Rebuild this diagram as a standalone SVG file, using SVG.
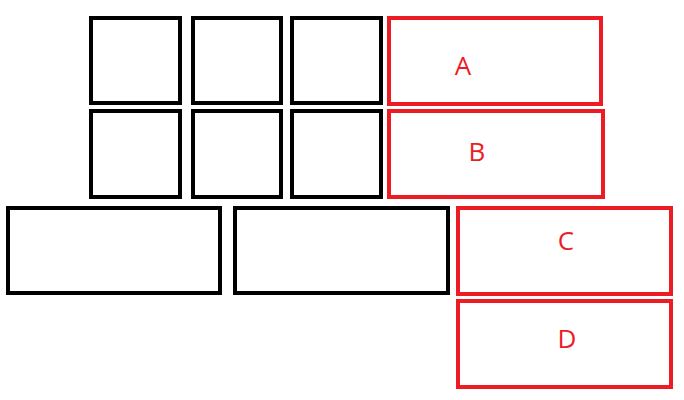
<svg xmlns="http://www.w3.org/2000/svg" width="684" height="400" viewBox="0 0 684 400">
<style>
.k{fill:#fff;stroke:#000;stroke-width:4}
.r{fill:#fff;stroke:#ed1c24;stroke-width:4}
.t{font-family:"Open Sans","Liberation Sans",sans-serif;font-size:26px;fill:#ed1c24;text-anchor:middle}
</style>
<rect width="684" height="400" fill="#fff"/>
<g id="n1"><rect class="k" x="91" y="18" width="89" height="85"/></g>
<g id="n2"><rect class="k" x="193" y="18" width="88" height="85"/></g>
<g id="n3"><rect class="k" x="292" y="18" width="89" height="85"/></g>
<g id="n4"><rect class="k" x="91" y="111" width="89" height="86"/></g>
<g id="n5"><rect class="k" x="193" y="111" width="88" height="86"/></g>
<g id="n6"><rect class="k" x="292" y="111" width="89" height="86"/></g>
<g id="n7"><rect class="k" x="8" y="208" width="212" height="85"/></g>
<g id="n8"><rect class="k" x="235" y="208" width="213" height="85"/></g>
<g id="A"><rect class="r" x="389" y="18" width="212" height="86"/><text class="t" x="463" y="75">A</text></g>
<g id="B"><rect class="r" x="389" y="111" width="214" height="86"/><text class="t" x="477" y="161">B</text></g>
<g id="C"><rect class="r" x="458" y="208" width="213" height="86"/><text class="t" x="566" y="250">C</text></g>
<g id="D"><rect class="r" x="458" y="301" width="213" height="86"/><text class="t" x="567" y="348">D</text></g>
<g id="connectors"></g>
</svg>
